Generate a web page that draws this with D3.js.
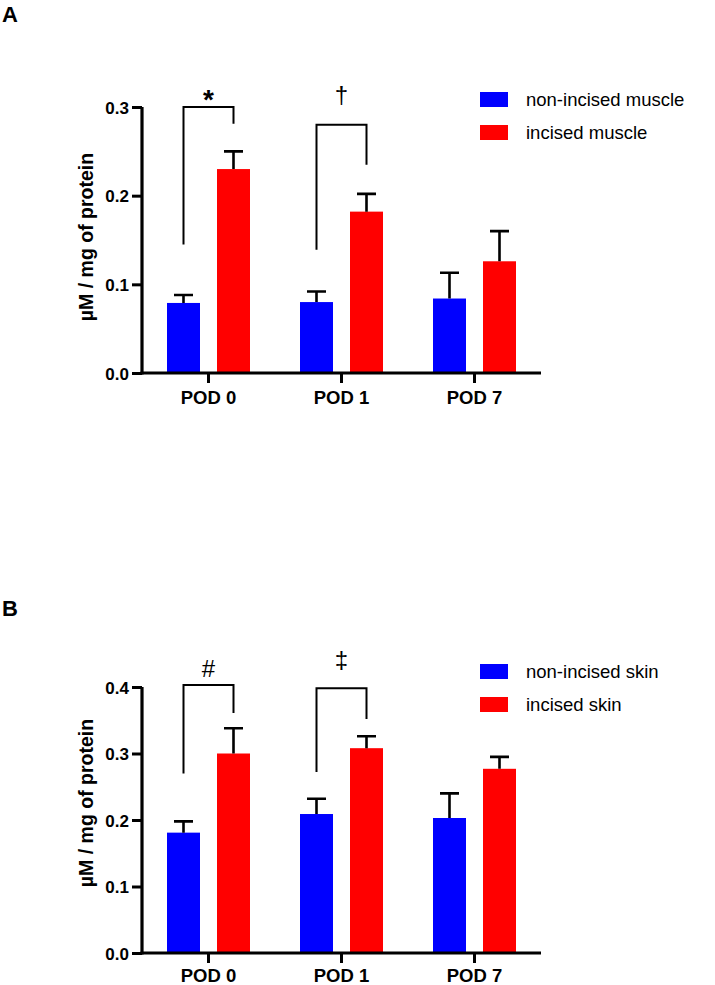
<!DOCTYPE html>
<html><head><meta charset="utf-8">
<script src="https://cdn.jsdelivr.net/npm/d3@7"></script>
<style>
body{margin:0;background:#fff;}
svg{display:block;font-family:"Liberation Sans",Arial,sans-serif;}
</style></head>
<body><svg id="c" width="715" height="985"></svg>
<script>
const categories = ["POD 0", "POD 1", "POD 7"];
const groupsA = ["non-incised muscle", "incised muscle"];
const groupsB = ["non-incised skin", "incised skin"];
const ticksA = [0.0, 0.1, 0.2, 0.3];
const ticksB = [0.0, 0.1, 0.2, 0.3, 0.4];
// Panel A: muscle
const nonIncisedMuscle = [0.079, 0.080, 0.084];
const nonIncisedMuscleErr = [0.009, 0.012, 0.029];
const incisedMuscle = [0.230, 0.182, 0.126];
const incisedMuscleErr = [0.020, 0.020, 0.034];
// Panel B: skin
const nonIncisedSkin = [0.181, 0.209, 0.203];
const nonIncisedSkinErr = [0.017, 0.023, 0.037];
const incisedSkin = [0.300, 0.308, 0.277];
const incisedSkinErr = [0.038, 0.018, 0.018];
// significance brackets: [category index, top, left-leg bottom, right-leg bottom, symbol]
const bracketsA = [[0, 0.300, 0.145, 0.281, "*"], [1, 0.280, 0.139, 0.235, "\u2020"]];
const bracketsB = [[0, 0.403, 0.270, 0.361, "#"], [1, 0.398, 0.272, 0.352, "\u2021"]];
const colors = ["#0000FF", "#FF0000"];

const svg = d3.select("#c");
const symbolStyle = {"*": {off: -2, size: 28, weight: "bold"}, "\u2020": {off: 22, size: 24, weight: "normal"},
  "#": {off: 8, size: 24, weight: "normal"}, "\u2021": {off: 20, size: 24, weight: "normal"}};

function panel(opt){
  const g = svg.append("g");
  const x = d3.scaleBand().domain(categories).range([142, 541]).padding(0);
  const sub = d3.scaleBand().domain([0,1]).range([-41.5, 41.5]).paddingInner(0.34).paddingOuter(0);
  const y = d3.scaleLinear().domain([0, opt.ymax]).range([opt.y0, opt.y0 - 266]);
  const cx = c => x(c) + x.bandwidth()/2;

  const series = [opt.vals[0], opt.vals[1]];
  series.forEach((vals, s) => {
    g.selectAll(null).data(categories).enter().append("rect")
      .attr("x", c => cx(c) + sub(s))
      .attr("width", sub.bandwidth())
      .attr("y", (c,i) => y(vals[i]))
      .attr("height", (c,i) => y(0) - y(vals[i]))
      .attr("fill", colors[s]);
    const errs = opt.errs[s];
    g.selectAll(null).data(categories).enter().append("path")
      .attr("d", (c,i) => {
        const xc = cx(c) + sub(s) + sub.bandwidth()/2;
        const yt = y(vals[i] + errs[i]);
        return `M${xc},${y(vals[i])}V${yt}M${xc-9.5},${yt}H${xc+9.5}`;
      })
      .attr("stroke", "#000").attr("stroke-width", 2.6).attr("fill", "none");
  });

  opt.brackets.forEach(b => {
    const c = categories[b[0]];
    const xl = cx(c) + sub(0) + sub.bandwidth()/2;
    const xr = cx(c) + sub(1) + sub.bandwidth()/2;
    g.append("path")
      .attr("d", `M${xl},${y(b[2])}V${y(b[1])}H${xr}V${y(b[3])}`)
      .attr("stroke", "#000").attr("stroke-width", 2).attr("fill", "none");
    const st = symbolStyle[b[4]];
    g.append("text").attr("x", cx(c)).attr("y", y(b[1]) - st.off)
      .attr("text-anchor", "middle")
      .attr("font-size", st.size)
      .attr("font-weight", st.weight)
      .text(b[4]);
  });

  const ya = d3.axisLeft(y).tickValues(opt.ticks).tickFormat(d3.format(".1f")).tickSize(10).tickSizeOuter(0);
  const yg = g.append("g").attr("transform", "translate(142,0)").call(ya);
  yg.select(".domain").attr("stroke-width", 3.2).attr("d", `M0,${y(opt.ymax)}V${y(0)+1.5}`);
  yg.selectAll(".tick line").attr("stroke-width", 3);
  yg.selectAll(".tick text").attr("font-size", 17).attr("font-weight", "bold")
    .attr("font-family", "Liberation Sans, Arial, sans-serif").attr("x", -13).attr("dy", "0.36em");

  const xa = d3.axisBottom(x).tickSize(10).tickSizeOuter(0);
  const xg = g.append("g").attr("transform", `translate(0,${y(0)})`).call(xa);
  xg.select(".domain").attr("stroke-width", 3.2).attr("d", "M140.5,0H541");
  xg.selectAll(".tick line").attr("stroke-width", 3);
  xg.selectAll(".tick text").attr("font-size", 18.5).attr("font-weight", "bold")
    .attr("font-family", "Liberation Sans, Arial, sans-serif").attr("y", opt.xLabOff).attr("dy", 0);

  g.append("text").attr("transform", `translate(93,${opt.labelY}) rotate(-90)`)
    .attr("text-anchor", "middle").attr("font-size", 19.5).attr("font-weight", "bold")
    .text("\u00B5M / mg of protein");

  opt.groups.forEach((name, i) => {
    const ly = opt.legY + i*33;
    g.append("rect").attr("x", 480).attr("y", ly).attr("width", 28).attr("height", 15).attr("fill", colors[i]);
    g.append("text").attr("x", 526).attr("y", ly + 14).attr("font-size", 18.5).text(name);
  });

  g.append("text").attr("x", 2).attr("y", opt.letterY).attr("font-size", 22).attr("font-weight", "bold").text(opt.letter);
}

panel({ymax:0.3, y0:373, ticks:ticksA, vals:[nonIncisedMuscle, incisedMuscle], errs:[nonIncisedMuscleErr, incisedMuscleErr],
  brackets:bracketsA, groups:groupsA, legY:92, labelY:237, letter:"A", letterY:22, xLabOff:31});
panel({ymax:0.4, y0:953, ticks:ticksB, vals:[nonIncisedSkin, incisedSkin], errs:[nonIncisedSkinErr, incisedSkinErr],
  brackets:bracketsB, groups:groupsB, legY:664, labelY:803, letter:"B", letterY:616, xLabOff:29});
</script></body></html>
